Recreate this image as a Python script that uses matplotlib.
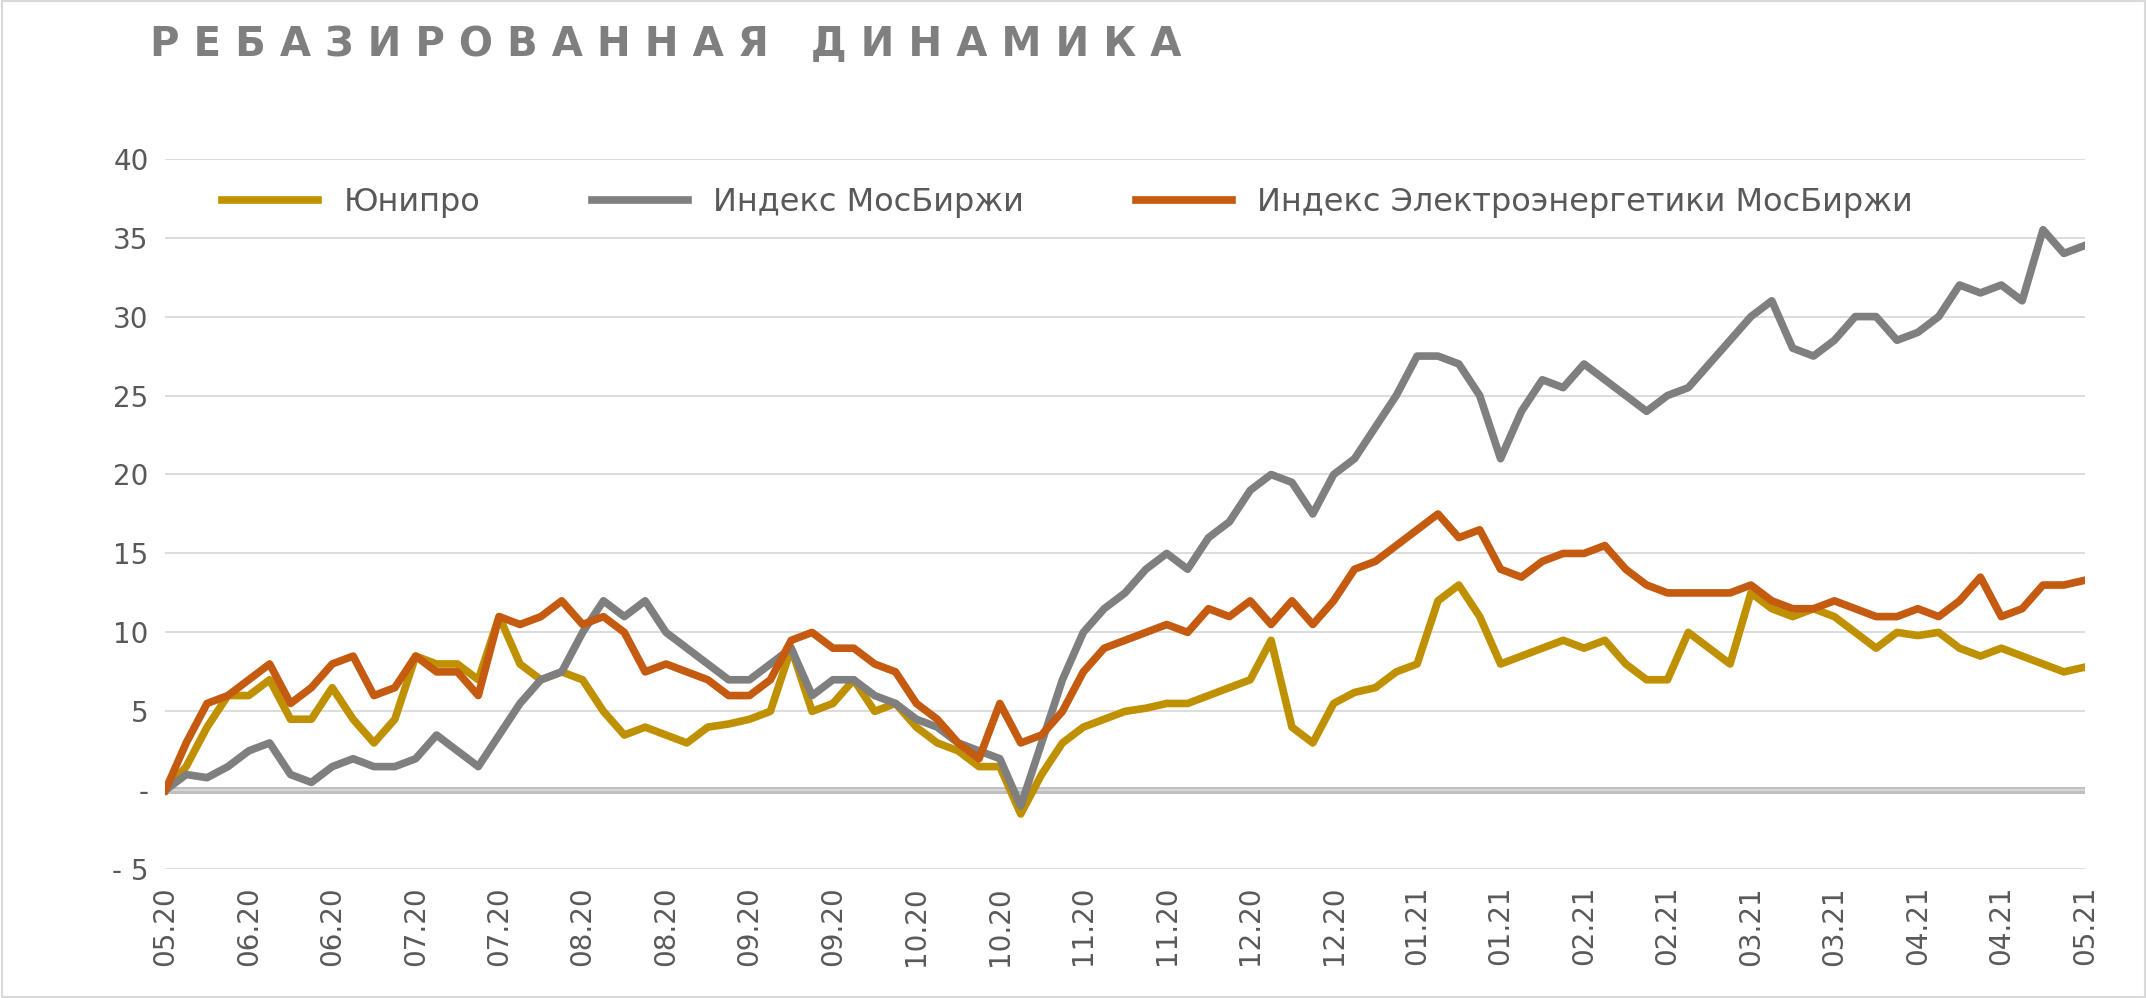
import matplotlib.pyplot as plt
import numpy as np

labels = ["05.20","06.20","06.20","07.20","07.20","08.20","08.20","09.20","09.20","10.20","10.20",
          "11.20","11.20","12.20","12.20","01.21","01.21","02.21","02.21","03.21","03.21","04.21","04.21","05.21"]

unipro = [0,1.5,4,6, 6,7,4.5,4.5, 6.5,4.5,3,4.5, 8.5,8,8,7, 11,8,7,7.5, 7,5,3.5,4, 3.5,3,4,4.2,
          4.5,5,9,5, 5.5,7,5,5.5, 4,3,2.5,1.5, 1.5,-1.5,1,3, 4,4.5,5,5.2, 5.5,5.5,6,6.5,
          7,9.5,4,3, 5.5,6.2,6.5,7.5, 8,12,13,11, 8,8.5,9,9.5, 9,9.5,8,7, 7,10,9,8,
          12.5,11.5,11,11.5, 11,10,9,10, 9.8,10,9,8.5, 9,8.5,8,7.5, 7.8]
moex = [0,1,0.8,1.5, 2.5,3,1,0.5, 1.5,2,1.5,1.5, 2,3.5,2.5,1.5, 3.5,5.5,7,7.5, 10,12,11,12,
        10,9,8,7, 7,8,9,6, 7,7,6,5.5, 4.5,4,3,2.5, 2,-1,3,7, 10,11.5,12.5,14, 15,14,16,17,
        19,20,19.5,17.5, 20,21,23,25, 27.5,27.5,27,25, 21,24,26,25.5, 27,26,25,24,
        25,25.5,27,28.5, 30,31,28,27.5, 28.5,30,30,28.5, 29,30,32,31.5, 32,31,35.5,34, 34.5]
power = [0,3,5.5,6, 7,8,5.5,6.5, 8,8.5,6,6.5, 8.5,7.5,7.5,6, 11,10.5,11,12, 10.5,11,10,7.5,
         8,7.5,7,6, 6,7,9.5,10, 9,9,8,7.5, 5.5,4.5,3,2, 5.5,3,3.5,5, 7.5,9,9.5,10,
         10.5,10,11.5,11, 12,10.5,12,10.5, 12,14,14.5,15.5, 16.5,17.5,16,16.5, 14,13.5,14.5,15,
         15,15.5,14,13, 12.5,12.5,12.5,12.5, 13,12,11.5,11.5, 12,11.5,11,11, 11.5,11,12,13.5,
         11,11.5,13,13, 13.3]

x = np.arange(len(unipro))
fig = plt.figure(figsize=(21.47, 9.98), dpi=100)
ax = fig.add_axes([0.077, 0.129, 0.894, 0.712])
ax.plot(x, unipro, color="#BF9000", lw=5.5, label="Юнипро")
ax.plot(x, moex, color="#7F7F7F", lw=5.5, label="Индекс МосБиржи")
ax.plot(x, power, color="#C55A11", lw=5.5, label="Индекс Электроэнергетики МосБиржи")
ax.axhline(0, color="#BFBFBF", lw=5, zorder=0)
ax.set_ylim(-5, 40)
ax.set_xlim(0, len(x)-1)
ax.set_yticks(range(-5, 41, 5))
ax.set_yticklabels(["- 5", "-"] + [str(v) for v in range(5, 41, 5)])
ax.set_xticks(np.linspace(0, len(x)-1, len(labels)))
ax.set_xticklabels(labels, rotation=90)
ax.tick_params(labelsize=20, colors="#595959", length=0, pad=12)
ax.grid(axis="y", color="#D9D9D9", lw=1.3)
ax.set_axisbelow(True)
for s in ax.spines.values():
    s.set_visible(False)
ax.legend(loc="upper center", bbox_to_anchor=(0.47, 1.0), ncol=3, frameon=False,
          fontsize=23, labelcolor="#595959", handlelength=3, columnspacing=3.5)
fig.text(0.07, 0.955, "Р Е Б А З И Р О В А Н Н А Я   Д И Н А М И К А", fontsize=29,
         fontweight="bold", color="#7F7F7F", va="center")
fig.patches.append(plt.Rectangle((0.001, 0.001), 0.998, 0.998, transform=fig.transFigure,
                                 fill=False, edgecolor="#D9D9D9", lw=1.5))
fig.savefig("out.png", dpi=100)
